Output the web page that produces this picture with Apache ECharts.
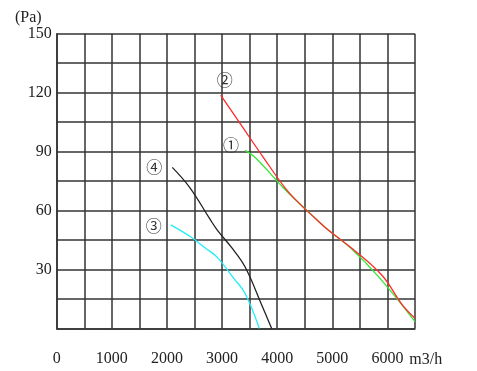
<!DOCTYPE html>
<html>
<head>
<meta charset="utf-8">
<script src="https://cdn.jsdelivr.net/npm/echarts@6/dist/echarts.min.js"></script>
<style>html,body{margin:0;padding:0;background:#fff;}#c{width:477px;height:371px;}</style>
</head>
<body>
<div id="c"></div>
<script>
// Data (airflow m3/h, pressure Pa)
var curve1X = [3416, 3597, 4111, 4414, 4704, 4909, 5339, 5865, 6500];
var curve1Y = [90.6, 87.1, 71.6, 63.3, 55.7, 50.5, 40.8, 25.5, 3.5];
var curve2X = [2975, 3385, 3748, 4142, 4414, 4704, 4909, 5352, 5896, 6270, 6500];
var curve2Y = [118.8, 101.9, 87.1, 71.6, 63.3, 55.7, 50.5, 40.8, 27.2, 12.0, 5.2];
var curve3X = [2068, 2442, 2703, 2913, 3204, 3416, 3675];
var curve3Y = [52.7, 46.4, 40.8, 36.2, 25.8, 17.9, 0];
var curve4X = [2097, 2418, 2781, 2913, 3175, 3416, 3719, 3900];
var curve4Y = [82.0, 71.6, 55.6, 50.1, 41.1, 31.4, 12.0, 0];
var curveNames = ['\u2460', '\u2461', '\u2462', '\u2463'];
var xTicks = [0, 1000, 2000, 3000, 4000, 5000, 6000];
var yTicks = [30, 60, 90, 120, 150];
var xUnit = 'm3/h';
var yUnit = '(Pa)';

function pairs(xs, ys) { return xs.map(function (x, i) { return [x, ys[i]]; }); }

var serif = '"Liberation Serif", "DejaVu Serif", serif';
var curves = [
  { x: curve1X, y: curve1Y, color: '#33e833', off: [-14, -6] },
  { x: curve2X, y: curve2Y, color: '#ff2a2a', off: [4, -15] },
  { x: curve3X, y: curve3Y, color: '#22eef8', off: [-17, 1] },
  { x: curve4X, y: curve4Y, color: '#222222', off: [-18, 0] }
];

var series = curves.map(function (c, k) {
  var d = pairs(c.x, c.y).map(function (p, i) {
    if (i === 0) {
      return { value: p, label: { show: true, formatter: curveNames[k], position: 'inside', offset: c.off } };
    }
    return { value: p };
  });
  return {
    type: 'line', data: d, smooth: 0.4, showSymbol: true, symbol: 'circle', symbolSize: 0,
    lineStyle: { color: c.color, width: 1.3 }, itemStyle: { color: c.color },
    label: { show: false, color: '#333', fontSize: 16, fontFamily: '"Noto Sans CJK SC", "DejaVu Sans", sans-serif' },
    emphasis: { disabled: true }, animation: false, z: 3
  };
});

var chart = echarts.init(document.getElementById('c'), null, { renderer: 'canvas' });
chart.setOption({
  animation: false,
  backgroundColor: '#fff',
  grid: { left: 56.7, right: 62, top: 33.7, bottom: 42.5, containLabel: false },
  xAxis: {
    type: 'value', min: 0, max: 6500, interval: 500,
    name: xUnit, nameLocation: 'end', nameGap: -8,
    nameTextStyle: { color: '#222', fontSize: 16, fontFamily: serif, align: 'left', verticalAlign: 'top', padding: [23, 0, 0, 0] },
    axisLine: { show: true, onZero: false, lineStyle: { color: '#333', width: 1.5 } },
    axisTick: { show: false },
    splitLine: { show: true, lineStyle: { color: '#333', width: 1.5 } },
    axisLabel: {
      color: '#222', fontSize: 16, fontFamily: serif, margin: 22,
      formatter: function (v) { return xTicks.indexOf(v) >= 0 ? String(v) : ''; }
    }
  },
  yAxis: {
    type: 'value', min: 0, max: 150, interval: 15,
    name: yUnit, nameLocation: 'end', nameGap: 6,
    nameTextStyle: { color: '#222', fontSize: 16, fontFamily: serif, align: 'right', padding: [0, 15, 0, 0] },
    axisLine: { show: true, lineStyle: { color: '#333', width: 1.5 } },
    axisTick: { show: false },
    splitLine: { show: true, lineStyle: { color: '#333', width: 1.5 } },
    axisLabel: {
      color: '#222', fontSize: 16, fontFamily: serif, margin: 5,
      formatter: function (v) { return yTicks.indexOf(v) >= 0 ? String(v) : ''; }
    }
  },
  series: series
});
</script>
</body>
</html>
